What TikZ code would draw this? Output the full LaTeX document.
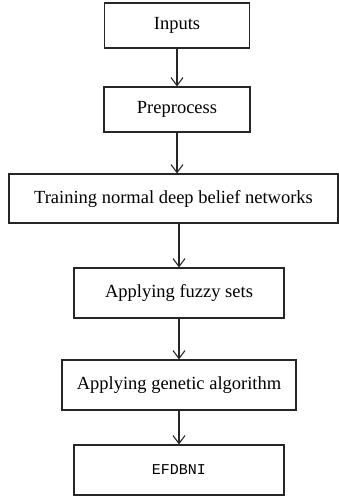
\documentclass[tikz,border=0pt]{standalone}
\usepackage{fontspec}
\setmainfont{Liberation Serif}
\setmonofont{Liberation Mono}
\usepackage{tikz}
\usetikzlibrary{arrows.meta, positioning}

\tikzset{
    stage/.style={draw=black!85, line width=1.1pt, inner sep=0pt, minimum height=45pt,
        font=\fontsize{18.5}{22}\selectfont},
    flow/.style={draw=black!85, line width=1.1pt, -{Straight Barb[length=8pt, width=12pt, line width=1.1pt]}}
}

\begin{document}
\begin{tikzpicture}[x=1pt, y=1pt]
        \useasboundingbox (0,0) rectangle (339,-496);
        % Processing stages, top to bottom
        \node[stage, minimum width=145pt] (inputs) at (177,-25.5) {Inputs};
        \node[stage, minimum width=146pt] (preprocess) at (177,-109.5) {Preprocess};
        \node[stage, minimum width=329pt, minimum height=49pt] (training) at (173.5,-198.5) {Training normal deep belief networks};
        \node[stage, minimum width=210pt, minimum height=50pt] (fuzzy) at (179,-293) {Applying fuzzy sets};
        \node[stage, minimum width=234pt, minimum height=50pt] (genetic) at (179,-385) {Applying genetic algorithm};
        \node[stage, minimum width=210pt, minimum height=50pt, font=\ttfamily\fontsize{15}{18}\selectfont] (efdbni) at (179,-470) {EFDBNI};
        % Connectors
        \draw[flow] (inputs.south) -- (inputs.south |- preprocess.north);
        \draw[flow] (preprocess.south) -- (preprocess.south |- training.north);
        \draw[flow] (training.south -| fuzzy.north) -- (fuzzy.north);
        \draw[flow] (fuzzy.south) -- (genetic.north);
        \draw[flow] (genetic.south) -- (efdbni.north);
    \end{tikzpicture}
\end{document}
